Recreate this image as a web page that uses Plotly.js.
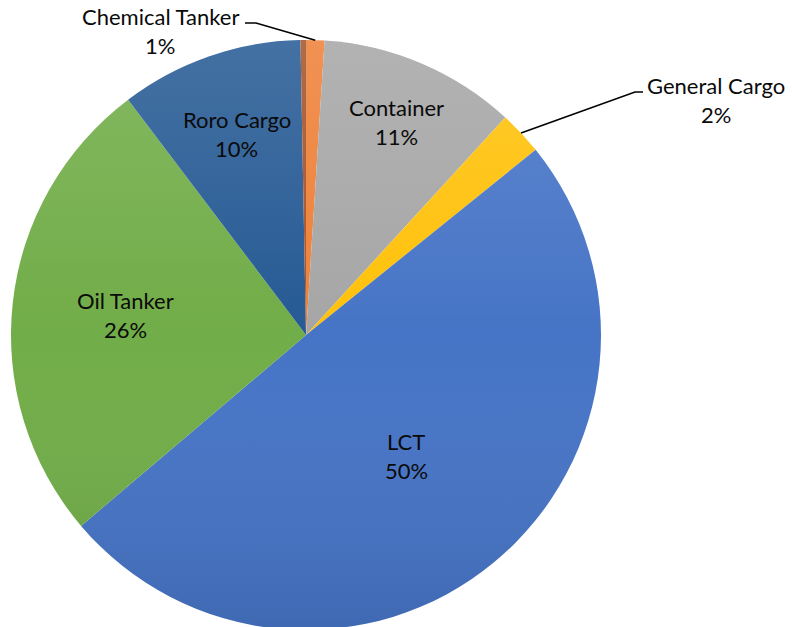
<!DOCTYPE html>
<html>
<head>
<meta charset="utf-8">
<script src="https://cdn.plot.ly/plotly-3.0.1.min.js"></script>
<style>
html,body{margin:0;padding:0;background:#fff;overflow:hidden;}
#chart{width:792px;height:640px;}
</style>
</head>
<body>
<div id="chart"></div>
<script>
// ---- data ----
var categories = ["Chemical Tanker", "Container", "General Cargo", "LCT", "Oil Tanker", "Roro Cargo", "Other"];
var shares = [1.0, 10.8, 2.4, 49.6, 25.9, 10.0, 0.3];
var showLabel = [true, true, true, true, true, true, false];

// ---- styles / layout geometry ----
var colors = ["#EE8037", "#A6A6A6", "#FFC10A", "#4674C6", "#71AD48", "#265A94", "#A3532C"];
var W = 792, H = 640;
var CX = 306, CY = 335, R = 295;
var FONT = "Lato, 'Open Sans', sans-serif";
var FS = 22;
var insideFrac = {"Container": 0.785, "LCT": 0.534, "Oil Tanker": 0.614, "Roro Cargo": 0.72};
var outside = {
  "Chemical Tanker": {tx: 160, ty: 31, elbow: [[256, 23], [245, 23]]},
  "General Cargo":   {tx: 716, ty: 100, elbow: [[635, 92], [643, 92]]}
};

function X(px){ return px / W; }
function Y(py){ return 1 - py / H; }

var total = shares.reduce(function(a,b){return a+b;}, 0);

var trace = {
  type: "pie",
  labels: categories,
  values: shares,
  sort: false,
  direction: "clockwise",
  rotation: 0,
  textinfo: "none",
  hoverinfo: "label+percent",
  marker: {colors: colors, line: {width: 0}},
  domain: {x: [X(CX - R), X(CX + R)], y: [Y(CY + R), Y(CY - R)]},
  showlegend: false
};

var annotations = [];
var shapes = [];
var cum = 0;
for (var i = 0; i < categories.length; i++) {
  var frac = shares[i] / total;
  var mid = (cum + frac / 2) * 2 * Math.PI;
  cum += frac;
  if (!showLabel[i]) continue;
  var name = categories[i];
  var pct = Math.round(frac * 100) + "%";
  var cxL, cyL;
  if (insideFrac[name] !== undefined) {
    var r = insideFrac[name] * R;
    cxL = CX + r * Math.sin(mid);
    cyL = CY - r * Math.cos(mid);
  } else {
    var o = outside[name];
    cxL = o.tx; cyL = o.ty;
    var ex = CX + R * Math.sin(mid), ey = CY - R * Math.cos(mid);
    var p = "M " + X(ex) + "," + Y(ey);
    o.elbow.forEach(function(pt){ p += " L " + X(pt[0]) + "," + Y(pt[1]); });
    shapes.push({type: "path", xref: "paper", yref: "paper", path: p,
                 line: {color: "#000", width: 1.6}});
  }
  annotations.push({xref: "paper", yref: "paper", x: X(cxL), y: Y(cyL - 14.5),
    text: name, showarrow: false, xanchor: "center", yanchor: "middle",
    font: {family: FONT, size: FS, color: "#0a0a0a"}});
  annotations.push({xref: "paper", yref: "paper", x: X(cxL), y: Y(cyL + 14.5),
    text: pct, showarrow: false, xanchor: "center", yanchor: "middle",
    font: {family: FONT, size: FS, color: "#0a0a0a"}});
}

// soft vertical shading over the pie (lighter at top, darker at bottom)
var shade = '<svg xmlns="http://www.w3.org/2000/svg" width="200" height="200" viewBox="0 0 200 200">' +
  '<defs><linearGradient id="g" x1="0" y1="0" x2="0" y2="1">' +
  '<stop offset="0" stop-color="#fff" stop-opacity="0.14"/>' +
  '<stop offset="0.5" stop-color="#fff" stop-opacity="0"/>' +
  '<stop offset="1" stop-color="#000" stop-opacity="0.10"/>' +
  '</linearGradient></defs><circle cx="100" cy="100" r="100" fill="url(#g)"/></svg>';

var layout = {
  width: W, height: H,
  margin: {l: 0, r: 0, t: 0, b: 0},
  paper_bgcolor: "#fff",
  annotations: annotations,
  shapes: shapes,
  images: [{
    source: "data:image/svg+xml;base64," + btoa(shade),
    xref: "paper", yref: "paper",
    x: X(CX - R), y: Y(CY - R), sizex: 2 * R / W, sizey: 2 * R / H,
    xanchor: "left", yanchor: "top", sizing: "stretch", layer: "above"
  }],
  showlegend: false
};

Plotly.newPlot("chart", [trace], layout, {displayModeBar: false, staticPlot: true});
</script>
</body>
</html>
